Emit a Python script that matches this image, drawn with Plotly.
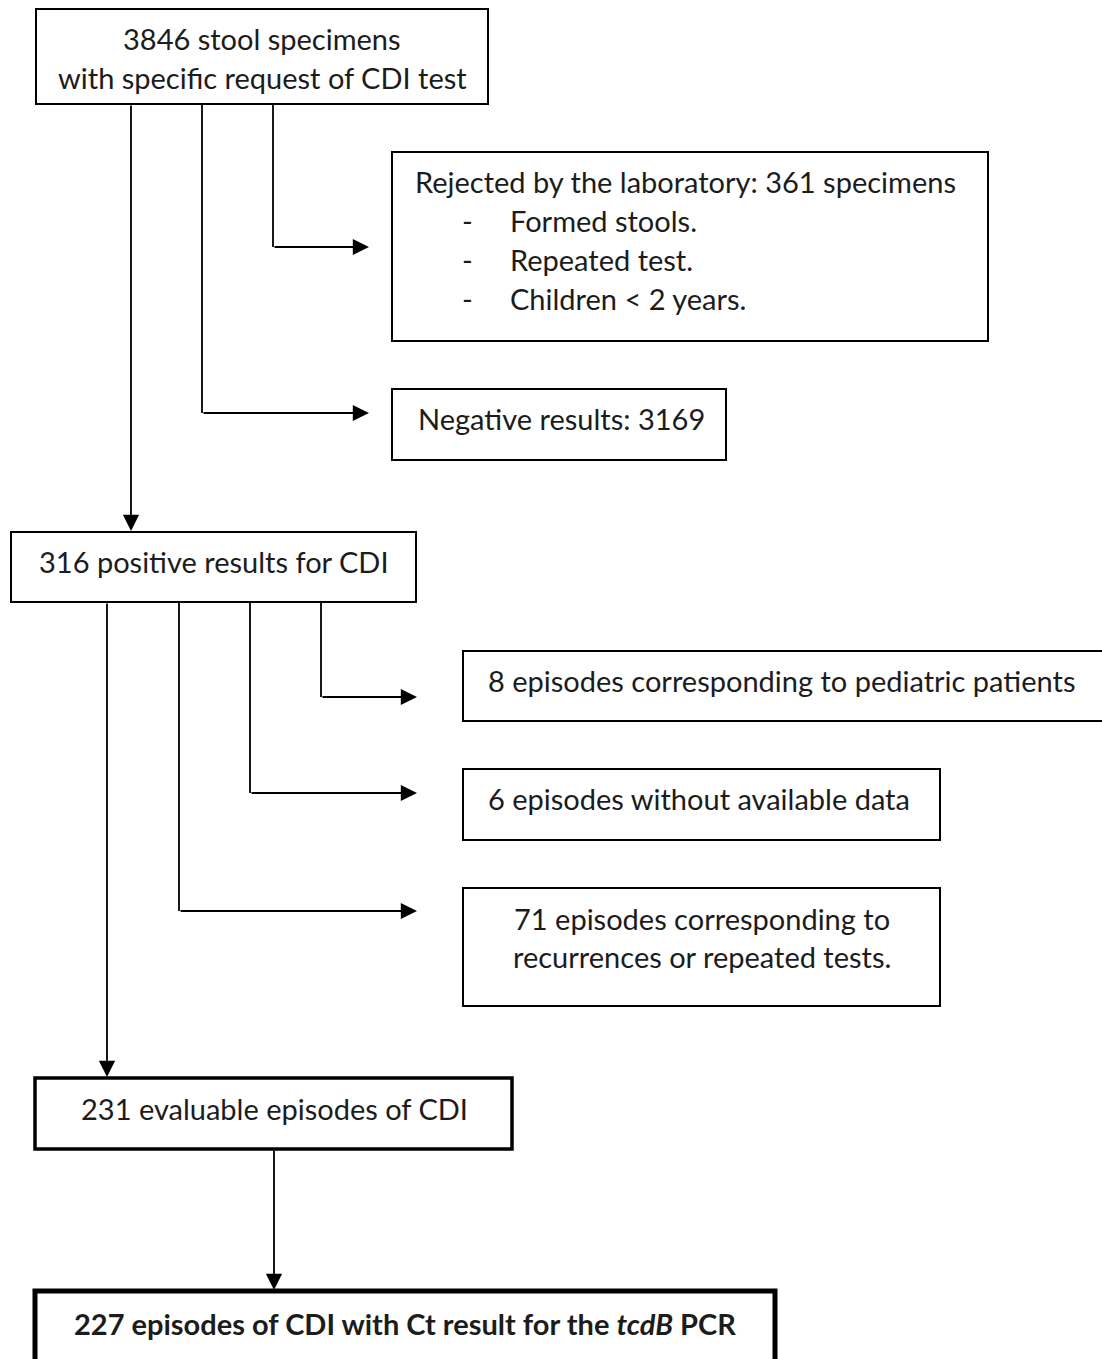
import plotly.graph_objects as go

# ---- data (counts shown in the flowchart) ----
stage_labels = ["total", "rejected", "negative", "positive", "pediatric",
                "no_data", "recurrences", "evaluable", "with_ct"]
stage_counts = [3846, 361, 3169, 316, 8, 6, 71, 231, 227]
rejection_reasons = ["Formed stools.", "Repeated test.", "Children < 2 years."]

N = dict(zip(stage_labels, stage_counts))

W, H = 1102, 1359
FONT = "Lato"
FS = 29
TXT = "#1c1c1c"
LINE = "#000000"
DY = -2  # small vertical text correction

fig = go.Figure()
fig.add_trace(go.Scatter(x=[0, W], y=[0, H], mode="markers",
                         marker=dict(opacity=0), hoverinfo="skip", showlegend=False))

shapes = []
annots = []


def box(x0, y0, x1, y1, w=2):
    shapes.append(dict(type="rect", xref="x", yref="y", x0=x0, y0=y0, x1=x1, y1=y1,
                       line=dict(color=LINE, width=w), fillcolor="white", layer="above"))


def seg(x0, y0, x1, y1, w=1.8):
    shapes.append(dict(type="line", xref="x", yref="y", x0=x0, y0=y0, x1=x1, y1=y1,
                       line=dict(color=LINE, width=w), layer="above"))


def arrow(x0, y0, x1, y1):
    annots.append(dict(x=x1, y=y1, ax=x0, ay=y0, xref="x", yref="y", axref="x", ayref="y",
                       text="", showarrow=True, arrowhead=2, arrowsize=1.8,
                       arrowwidth=1.8, arrowcolor=LINE, standoff=0))


def text(x, y, s, anchor="center", size=FS):
    annots.append(dict(x=x, y=y + DY, xref="x", yref="y", text=s, showarrow=False,
                       xanchor=anchor, yanchor="middle",
                       font=dict(family=FONT, size=size, color=TXT)))


# ---- boxes ----
box(36, 9, 488, 104)
text(262, 40, f"{N['total']} stool specimens")
text(262, 79, "with specific request of CDI test")

box(392, 152, 988, 341)
text(413, 183, f"Rejected by the laboratory: {N['rejected']} specimens", anchor="left")
for i, r in enumerate(rejection_reasons):
    yy = 222 + 39 * i
    text(460, yy, "-", anchor="left")
    text(508, yy, r, anchor="left")

box(392, 389, 726, 460)
text(416, 420, f"Negative results: {N['negative']}", anchor="left")

box(11, 532, 416, 602)
text(214, 563, f"{N['positive']} positive results for CDI")

box(463, 651, 1120, 721)
text(486, 682, f"{N['pediatric']} episodes corresponding to pediatric patients", anchor="left")

box(463, 769, 940, 840)
text(486, 800, f"{N['no_data']} episodes without available data", anchor="left")

box(463, 888, 940, 1006)
text(702, 920, f"{N['recurrences']} episodes corresponding to")
text(702, 958, "recurrences or repeated tests.")

box(35, 1078, 512, 1149, w=3.5)
text(274, 1110, f"{N['evaluable']} evaluable episodes of CDI")

box(35, 1291, 775, 1375, w=5)
text(405, 1325, f"<b>{N['with_ct']} episodes of CDI with Ct result for the <i>tcdB</i> PCR</b>",
     size=29)

# ---- connectors ----
# from top box
seg(273, 104, 273, 247)
arrow(273, 247, 369, 247)
seg(202, 104, 202, 413)
arrow(202, 413, 369, 413)
arrow(131, 104, 131, 531)

# from positive box
seg(321, 602, 321, 697)
arrow(321, 697, 417, 697)
seg(250, 602, 250, 793)
arrow(250, 793, 417, 793)
seg(179, 602, 179, 911)
arrow(179, 911, 417, 911)
arrow(107, 602, 107, 1077)

# from evaluable box
arrow(274, 1149, 274, 1290)

fig.update_layout(
    width=W, height=H,
    margin=dict(l=0, r=0, t=0, b=0),
    paper_bgcolor="white", plot_bgcolor="white",
    xaxis=dict(range=[0, W], visible=False, fixedrange=True),
    yaxis=dict(range=[H, 0], visible=False, fixedrange=True),
    shapes=shapes, annotations=annots, showlegend=False,
)

fig.write_html("out.html", config={"displayModeBar": False},
               post_script="document.body.style.margin='0';document.body.style.padding='0';")
